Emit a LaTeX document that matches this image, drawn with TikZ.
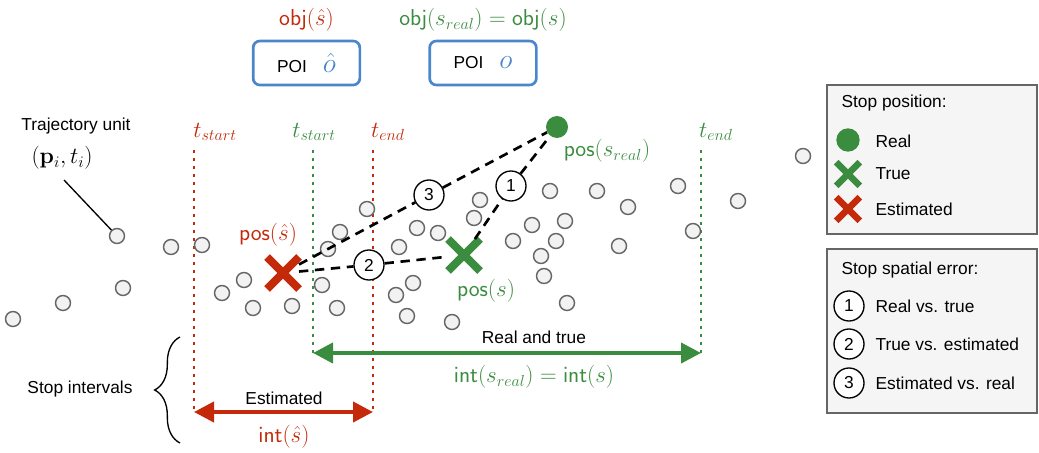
\documentclass[tikz,border=0pt]{standalone}
\usepackage[no-math]{fontspec}
\newfontfamily\arialfont{Liberation Sans}
\usetikzlibrary{positioning,arrows.meta,shapes.misc,decorations.pathreplacing}

\definecolor{estred}{RGB}{196,41,10}
\definecolor{truegreen}{RGB}{58,140,62}
\definecolor{poiblue}{RGB}{74,134,204}
\definecolor{dotfill}{RGB}{242,242,242}
\definecolor{dotline}{RGB}{102,102,102}
\definecolor{legfill}{RGB}{245,245,245}

\newcommand{\txtsize}{\fontsize{13}{15}\selectfont}
\newcommand{\lblsize}{\fontsize{17.5}{20}\selectfont}

\begin{document}
\begin{tikzpicture}[x=0.75pt,y=-0.75pt,
	txt/.style={font=\arialfont\txtsize, inner sep=1pt},
	mlbl/.style={font=\lblsize, inner sep=1pt},
	tunit/.style={circle, draw=dotline, fill=dotfill, line width=1.1pt, minimum size=11.25pt, inner sep=0pt},
	errnum/.style={circle, draw=black, fill=white, line width=1pt, minimum size=22.5pt, inner sep=0pt, font=\arialfont\txtsize},
	poibox/.style={draw=poiblue, line width=2pt, rounded corners=5pt, minimum width=80pt, minimum height=33pt, inner sep=0pt},
	bigx/.style={cross out, line width=6pt, minimum size=18pt, inner sep=0pt},
	smallx/.style={cross out, line width=4.8pt, minimum size=13pt, inner sep=0pt},
	errline/.style={dash pattern=on 7pt off 5pt, line width=2pt},
	tline/.style={dash pattern=on 2.2pt off 3.8pt, line width=2.2pt},
	ival/.style={line width=3pt, arrows={Triangle[length=15pt,width=15pt]-Triangle[length=15pt,width=15pt]}},
	legbox/.style={draw=dotline, fill=legfill, line width=1.1pt}]

	\useasboundingbox (0,0) rectangle (1039,453);

	\node[poibox] (poi1) at (306.5,63) {{\arialfont\txtsize POI}\hspace{12pt}{\color{poiblue}\fontsize{22}{24}\selectfont$\hat{o}$}};
	\node[poibox] (poi2) at (483,63) {{\arialfont\txtsize POI}\hspace{12pt}{\color{poiblue}\fontsize{22}{24}\selectfont$o$}};

	\node[mlbl, estred, above=5pt of poi1] (obj1) {$\mathsf{obj}(\hat{s})$};
	\node[mlbl, truegreen, above=5pt of poi2] (obj2) {$\mathsf{obj}(s_{real})=\mathsf{obj}(s)$};

	\coordinate (es-top) at (194,150);
	\coordinate (es-bot) at (194,412);
	\coordinate (ee-top) at (373,150);
	\coordinate (ee-bot) at (373,412);
	\coordinate (ts-top) at (313,150);
	\coordinate (ts-bot) at (313,353);
	\coordinate (te-top) at (701,150);
	\coordinate (te-bot) at (701,353);

	\draw[tline, estred] (es-top) -- (es-bot);
	\draw[tline, estred] (ee-top) -- (ee-bot);
	\draw[tline, truegreen] (ts-top) -- (ts-bot);
	\draw[tline, truegreen] (te-top) -- (te-bot);

	\node[mlbl, estred] (es-lbl) at (215,132) {$t_{start}$};
	\node[mlbl, estred] (ee-lbl) at (388,132) {$t_{end}$};
	\node[mlbl, truegreen] (ts-lbl) at (314,132) {$t_{start}$};
	\node[mlbl, truegreen] (te-lbl) at (716,132) {$t_{end}$};

	\foreach \x/\y [count=\i] in {117/236, 171/247, 202/245, 123/288, 63/303, 13/319, 222/293, 244/280,
		253/308, 292/306, 322/285, 337/308, 328/249, 340/232, 367/209, 399/247, 413/283, 396/295,
		407/316, 417/228, 438/233, 452/322, 474/218, 480/200, 550/191, 597/191, 628/207, 678/186,
		738/201, 803/156, 532/225, 565/221, 513/241, 556/241, 541/256, 544/276, 619/246, 693/231, 567/303}
		\node[tunit] (d\i) at (\x,\y) {};

	\node[txt] (traj) at (76,126) {Trajectory unit};
	\node[mlbl] (traj-m) at (62,158) {$(\mathbf{p}_i, t_i)$};
	\coordinate (lead) at (64,180);
	\draw[line width=1pt] (lead) -- (d1);

	\node[bigx, draw=estred] (est) at (283,273) {};
	\node[bigx, draw=truegreen] (tru) at (464,255) {};
	\node[circle, fill=truegreen, minimum size=16.5pt, inner sep=0pt] (real) at (557,127) {};

	\node[mlbl, estred] (est-lbl) at (268,235) {$\mathsf{pos}(\hat{s})$};
	\node[mlbl, truegreen] (tru-lbl) at (486,291) {$\mathsf{pos}(s)$};
	\node[mlbl, truegreen] (real-lbl) at (607,151) {$\mathsf{pos}(s_{real})$};

	\node[errnum] (e1) at (511,186) {1};
	\node[errnum] (e2) at (369,265) {2};
	\node[errnum] (e3) at (429,195) {3};

	\draw[errline] (tru) -- (e1) -- (real);
	\draw[errline] (est) -- (e2) -- (tru);
	\draw[errline] (est) -- (e3) -- (real);

	\draw[ival, estred] (es-bot) -- (ee-bot);
	\draw[ival, truegreen] (ts-bot) -- (te-bot);

	\node[txt] (est-iv) at (284,398) {Estimated};
	\node[mlbl, estred] (est-int) at (284,437) {$\mathsf{int}(\hat{s})$};
	\node[txt] (real-iv) at (534,337) {Real and true};
	\node[mlbl, truegreen] (real-int) at (534,377) {$\mathsf{int}(s_{real})=\mathsf{int}(s)$};

	\coordinate (br-bot) at (180,443);
	\coordinate (br-top) at (180,337);
	\draw[decorate, decoration={brace, amplitude=19pt}, line width=1pt] (br-bot) -- (br-top);
	\node[txt] (stops) at (80,389) {Stop intervals};

	\draw[legbox] (827,85) rectangle (1037,234);
	\draw[legbox] (827,249) rectangle (1037,413);

	\node[txt, anchor=west] (pos-ttl) at (840,103) {Stop position:};
	\node[circle, fill=truegreen, minimum size=17.5pt, inner sep=0pt] (leg-real) at (848,140) {};
	\node[txt, anchor=west] (leg-real-t) at (874,141) {Real};
	\node[smallx, draw=truegreen] (leg-tru) at (848,174) {};
	\node[txt, anchor=west] (leg-tru-t) at (874,174) {True};
	\node[smallx, draw=estred] (leg-est) at (848,209) {};
	\node[txt, anchor=west] (leg-est-t) at (874,209) {Estimated};

	\node[txt, anchor=west] (err-ttl) at (840,270) {Stop spatial error:};
	\foreach \n/\yy/\t in {1/306/Real vs. true, 2/344/True vs. estimated, 3/383/Estimated vs. real} {
		\node[errnum] (leg-e\n) at (849,\yy) {\n};
		\node[txt, anchor=west] (leg-e\n-t) at (874,\yy) {\t};
	}
\end{tikzpicture}
\end{document}
